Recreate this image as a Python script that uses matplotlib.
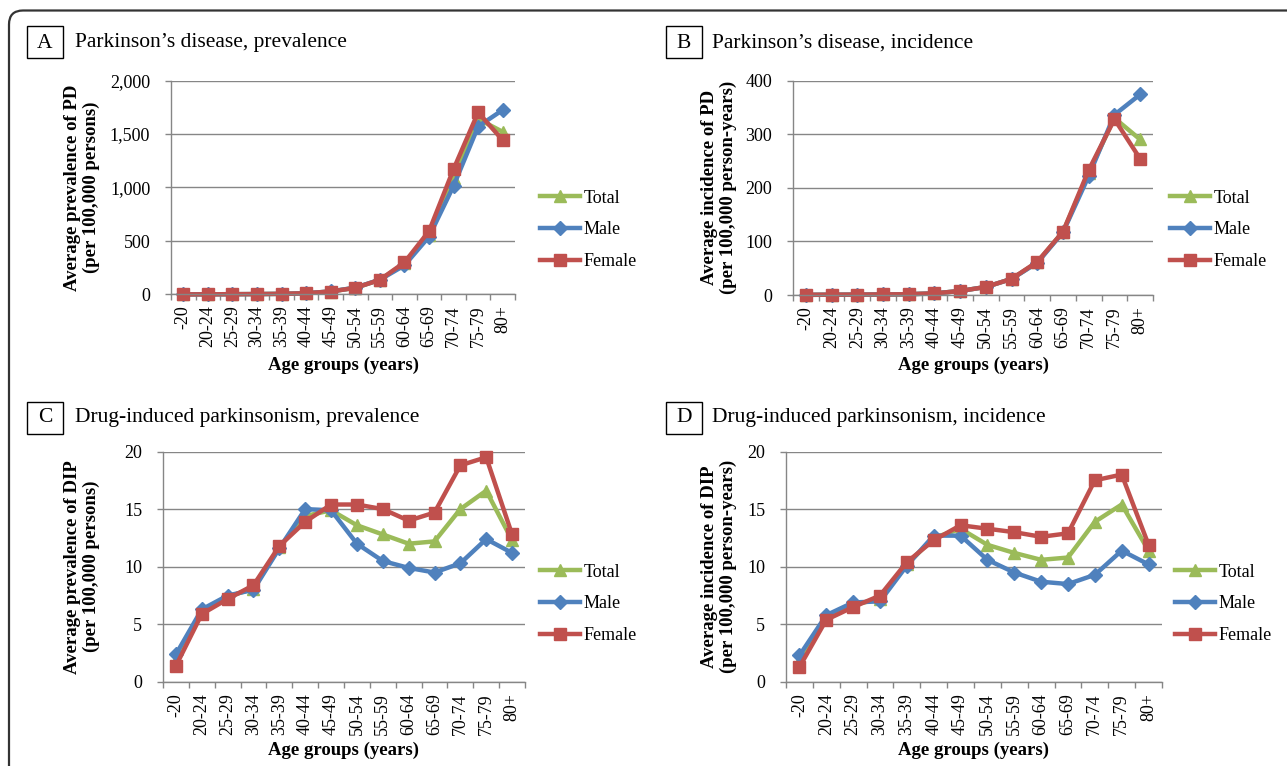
import numpy as np
import matplotlib
matplotlib.use("Agg")
import matplotlib.pyplot as plt
from matplotlib.patches import FancyBboxPatch, Rectangle
from matplotlib.transforms import IdentityTransform
from matplotlib.ticker import FuncFormatter, FixedLocator
from matplotlib.lines import Line2D

plt.rcParams['font.family'] = ['Liberation Serif', 'DejaVu Serif']

age_groups = ['-20', '20-24', '25-29', '30-34', '35-39', '40-44', '45-49',
              '50-54', '55-59', '60-64', '65-69', '70-74', '75-79', '80+']

pd_prev_total = [1, 2, 3, 4, 6, 12, 28, 62, 137, 290, 560, 1090, 1640, 1520]
pd_prev_male = [1, 2, 3, 4, 6, 12, 29, 64, 138, 272, 540, 1015, 1570, 1725]
pd_prev_female = [1, 2, 3, 4, 6, 12, 28, 62, 137, 300, 592, 1172, 1702, 1442]

pd_inc_total = [0.3, 0.5, 0.7, 1, 1.5, 3, 7.5, 15, 30, 61, 118, 228, 330, 290]
pd_inc_male = [0.3, 0.5, 0.7, 1, 1.5, 3, 7.5, 15, 30, 60, 117, 222, 336, 374]
pd_inc_female = [0.3, 0.5, 0.7, 1, 1.5, 3, 7.5, 15, 30, 62, 118, 233, 328, 254]

dip_prev_total = [1.9, 6.1, 7.4, 8.1, 11.7, 14.4, 14.9, 13.6, 12.8, 12.0, 12.2, 15.0, 16.6, 12.3]
dip_prev_male = [2.4, 6.3, 7.5, 8.0, 11.6, 15.0, 14.9, 12.0, 10.5, 9.9, 9.5, 10.3, 12.4, 11.2]
dip_prev_female = [1.4, 5.9, 7.2, 8.4, 11.8, 13.9, 15.4, 15.4, 15.0, 14.0, 14.7, 18.8, 19.5, 12.8]

dip_inc_total = [1.8, 5.6, 6.7, 7.2, 10.2, 12.5, 13.3, 11.9, 11.2, 10.6, 10.8, 13.9, 15.4, 11.4]
dip_inc_male = [2.3, 5.8, 6.9, 7.0, 10.1, 12.7, 12.7, 10.6, 9.5, 8.7, 8.5, 9.3, 11.4, 10.2]
dip_inc_female = [1.3, 5.4, 6.5, 7.5, 10.4, 12.3, 13.6, 13.3, 13.0, 12.6, 12.9, 17.5, 18.0, 11.9]

series_labels = ['Total', 'Male', 'Female']
series_colors = ['#9BBB59', '#4F81BD', '#C0504D']
series_markers = ['^', 'D', 's']
series_msize = [8.5, 7, 8]

W, H = 1287, 766
fig = plt.figure(figsize=(W / 100, H / 100), dpi=100)
fig.patch.set_facecolor('white')

GRID = '#868686'
FS = 13


def fx(x):
    return x / W


def fy(y):
    return 1 - y / H


def add_ax(l, r, t, b):
    return fig.add_axes([l / W, 1 - b / H, (r - l) / W, (b - t) / H])


panels = [
    dict(letter='A', title="Parkinson\u2019s disease, prevalence",
         box=(27, 26), tx=75, ty=43,
         ax=(171, 515, 80.5, 294.5), ylim=(0, 2000), step=500, comma=True,
         ylabel='Average prevalence of PD\n(per 100,000 persons)', ylx=82,
         xlx=343, xly=365, legx=540, legy=230,
         data=[pd_prev_total, pd_prev_male, pd_prev_female]),
    dict(letter='B', title="Parkinson\u2019s disease, incidence",
         box=(666, 26), tx=712, ty=43,
         ax=(793, 1153, 80.5, 295), ylim=(0, 400), step=100, comma=False,
         ylabel='Average incidence of PD\n(per 100,000 person-years)', ylx=719,
         xlx=974, xly=365, legx=1170, legy=230,
         data=[pd_inc_total, pd_inc_male, pd_inc_female]),
    dict(letter='C', title="Drug-induced parkinsonism, prevalence",
         box=(27, 402), tx=75, ty=418,
         ax=(163, 525, 451.5, 682), ylim=(0, 20), step=5, comma=False,
         ylabel='Average prevalence of DIP\n(per 100,000 persons)', ylx=82,
         xlx=344, xly=750, legx=540, legy=604,
         data=[dip_prev_total, dip_prev_male, dip_prev_female]),
    dict(letter='D', title="Drug-induced parkinsonism, incidence",
         box=(666, 402), tx=712, ty=418,
         ax=(786, 1162, 451.5, 682), ylim=(0, 20), step=5, comma=False,
         ylabel='Average incidence of DIP\n(per 100,000 person-years)', ylx=719,
         xlx=974, xly=750, legx=1175, legy=604,
         data=[dip_inc_total, dip_inc_male, dip_inc_female]),
]

x = np.arange(len(age_groups))

for p in panels:
    l, r, t, b = p['ax']
    ax = add_ax(l, r, t, b)
    for vals, lab, col, mk, ms in zip(p['data'], series_labels, series_colors,
                                      series_markers, series_msize):
        ax.plot(x, vals, color=col, lw=3.2, marker=mk, markersize=ms,
                markerfacecolor=col, markeredgecolor=col, label=lab,
                solid_joinstyle='round', clip_on=False)
    ax.set_xlim(-0.5, len(age_groups) - 0.5)
    lo, hi = p['ylim']
    ax.set_ylim(lo, hi)
    yt = np.arange(lo, hi + p['step'] / 2, p['step'])
    ax.set_yticks(yt)
    if p['comma']:
        ax.yaxis.set_major_formatter(FuncFormatter(lambda v, pos: f'{int(v):,}'))
    else:
        ax.yaxis.set_major_formatter(FuncFormatter(lambda v, pos: f'{int(v)}'))
    ax.grid(axis='y', color=GRID, lw=1)
    ax.set_axisbelow(True)
    for s in ['top', 'right']:
        ax.spines[s].set_visible(False)
    for s in ['left', 'bottom']:
        ax.spines[s].set_color(GRID)
        ax.spines[s].set_linewidth(1)
    ax.set_xticks(x)
    ax.set_xticklabels(age_groups, rotation=90, fontsize=FS)
    ax.xaxis.set_minor_locator(FixedLocator(np.arange(-0.5, len(age_groups), 1)))
    ax.tick_params(axis='x', which='major', length=0, pad=8)
    ax.tick_params(axis='x', which='minor', length=4, color=GRID, width=1)
    ax.tick_params(axis='y', which='major', length=4, color=GRID, width=1,
                   labelsize=FS, pad=11)

    # titles
    bx, by = p['box']
    fig.add_artist(Rectangle((fx(bx), fy(by + 32)), 36 / W, 32 / H,
                             transform=fig.transFigure, fill=False,
                             edgecolor='black', lw=1))
    fig.text(fx(bx + 18), fy(p['ty']), p['letter'], fontsize=15.5,
             ha='center', va='center')
    fig.text(fx(p['tx']), fy(p['ty']), p['title'], fontsize=15.5,
             ha='left', va='center')

    # axis labels
    fig.text(fx(p['ylx']), fy((t + b) / 2), p['ylabel'], rotation=90,
             fontsize=13.5, fontweight='bold', ha='center', va='center',
             multialignment='center', linespacing=1.2)
    fig.text(fx(p['xlx']), fy(p['xly']), 'Age groups (years)', fontsize=13.5,
             fontweight='bold', ha='center', va='center')

    # legend
    handles = [Line2D([0], [0], color=c, lw=3.2, marker=m, markersize=ms,
                      markerfacecolor=c, markeredgecolor=c)
               for c, m, ms in zip(series_colors, series_markers, series_msize)]
    ax.legend(handles, series_labels, loc='center left',
              bbox_to_anchor=(fx(p['legx']), fy(p['legy'])),
              bbox_transform=fig.transFigure, frameon=False, fontsize=FS,
              borderpad=0, borderaxespad=0, handlelength=2.2,
              handletextpad=0.2, labelspacing=0.82)

# outer rounded frame
frame = FancyBboxPatch((9, -40), 1400, (H - 10.5) + 40,
                       boxstyle='round,pad=0,rounding_size=14',
                       transform=IdentityTransform(), fill=False,
                       edgecolor='#333333', lw=1.6)
fig.add_artist(frame)

fig.savefig('out.png', dpi=100, facecolor='white')
